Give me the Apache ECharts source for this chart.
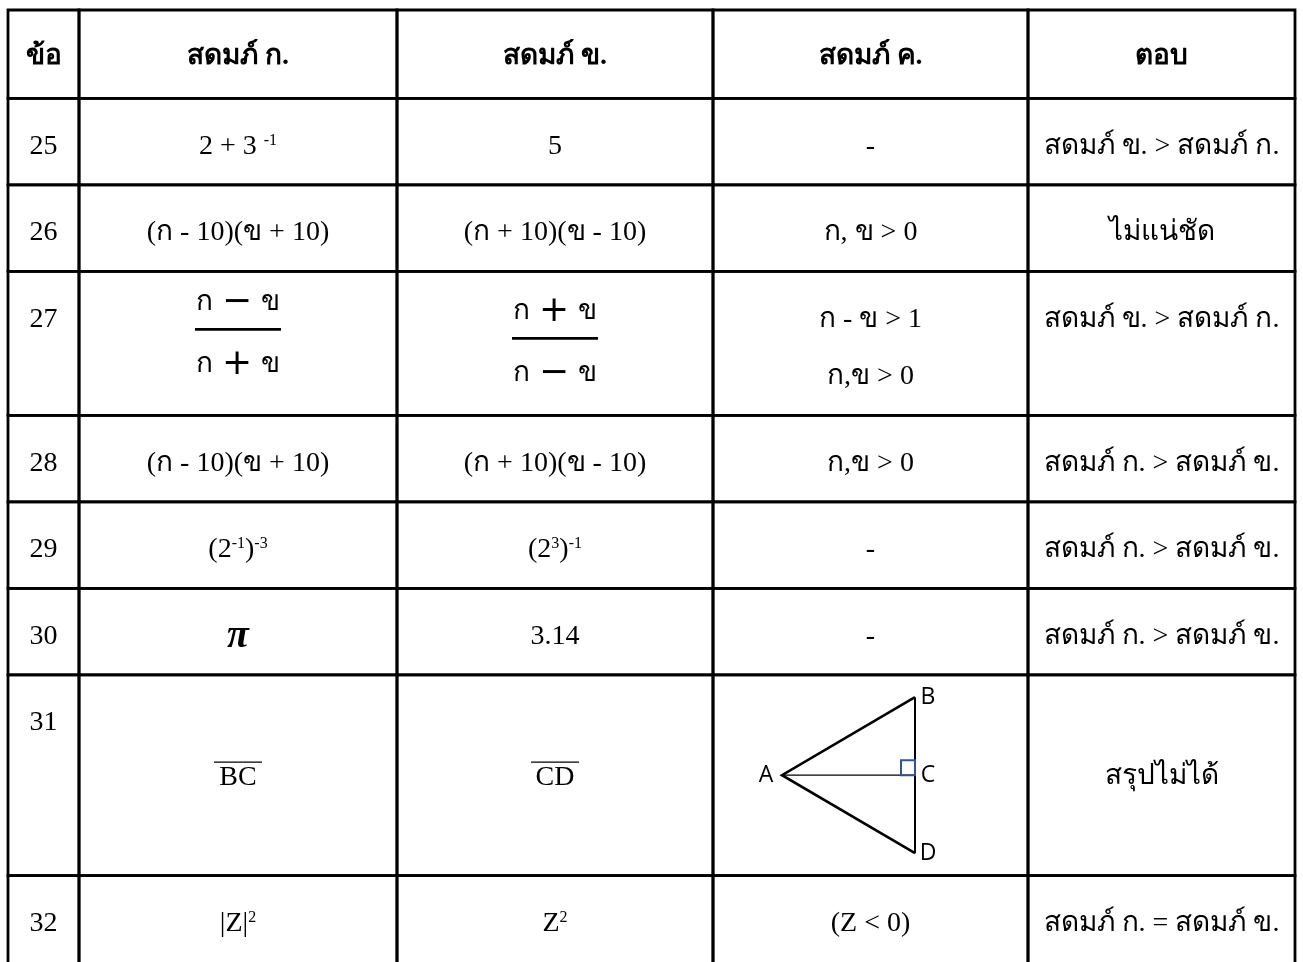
<!DOCTYPE html>
<html>
<head>
<meta charset="utf-8">
<title>ตารางเปรียบเทียบสดมภ์</title>
<script src="https://cdn.jsdelivr.net/npm/echarts@6/dist/echarts.min.js"></script>
<style>
  html, body { margin: 0; background: #fff; }
  #main { width: 1303px; height: 962px; }
</style>
</head>
<body>
<div id="main"></div>
<script>
  // table content
  const headers = ['ข้อ', 'สดมภ์ ก.', 'สดมภ์ ข.', 'สดมภ์ ค.', 'ตอบ'];
  const itemNo = ['25', '26', '27', '28', '29', '30', '31', '32'];
  const colA = ['2 + 3 {sup|-1}', '(ก - 10)(ข + 10)', 'frac:ก − ข|ก + ข', '(ก - 10)(ข + 10)',
    '(2{sup|-1}){sup|-3}', '{pi|π}', 'over:BC', '|Z|{sup|2}'];
  const colB = ['5', '(ก + 10)(ข - 10)', 'frac:ก + ข|ก − ข', '(ก + 10)(ข - 10)',
    '(2{sup|3}){sup|-1}', '3.14', 'over:CD', 'Z{sup|2}'];
  const colC = ['-', 'ก, ข > 0', 'ก - ข > 1\nก,ข > 0', 'ก,ข > 0', '-', '-', 'triangle', '(Z < 0)'];
  const answers = ['สดมภ์ ข. > สดมภ์ ก.', 'ไม่แน่ชัด', 'สดมภ์ ข. > สดมภ์ ก.', 'สดมภ์ ก. > สดมภ์ ข.',
    'สดมภ์ ก. > สดมภ์ ข.', 'สดมภ์ ก. > สดมภ์ ข.', 'สรุปไม่ได้', 'สดมภ์ ก. = สดมภ์ ข.'];
  // triangle ABCD in column ค. of row 31
  const triLabels = ['A', 'B', 'C', 'D'];

  // layout (pixels inside the grid)
  const colEdges = [0, 71, 389, 705, 1020, 1287];
  const rowEdges = [0, 89, 176, 263, 408, 495, 582, 669, 871, 990];
  const serif = '"Liberation Serif", "Times New Roman", serif';
  const sans = '"Open Sans", "Noto Sans", sans-serif';
  const fs = 28;

  const rows = [headers];
  for (let i = 0; i < itemNo.length; i++) {
    rows.push([itemNo[i], colA[i], colB[i], colC[i], answers[i]]);
  }
  const cells = [];
  rows.forEach(function (r, ri) {
    r.forEach(function (t, ci) { cells.push([ci, ri]); });
  });

  const rich = {
    sup: { fontFamily: serif, fontSize: 16, verticalAlign: 'top', fill: '#000' },
    op: { fontFamily: '"DejaVu Sans", sans-serif', fontSize: 36, fill: '#000', padding: [0, 9, 0, 9] },
    t: { fontFamily: serif, fontSize: fs, fill: '#000' },
    pi: { fontFamily: serif, fontSize: 40, fontStyle: 'italic', fontWeight: 'bold', fill: '#000' }
  };

  function txt(s, x, y, opt) {
    opt = opt || {};
    return {
      type: 'text', x: x, y: y,
      style: {
        text: s, fill: '#000', align: 'center', verticalAlign: 'middle',
        fontFamily: opt.family || serif, fontSize: opt.size || fs,
        fontWeight: opt.weight || 'normal', lineHeight: opt.lineHeight || fs,
        rich: rich
      }
    };
  }
  function line(x1, y1, x2, y2, w, color) {
    return { type: 'line', shape: { x1: x1, y1: y1, x2: x2, y2: y2 },
      style: { stroke: color || '#000', lineWidth: w } };
  }
  function fracText(s) {
    return s.replace(/ ?([+−]) ?/g, '{op|$1}').replace(/([กข])/g, '{t|$1}');
  }

  function renderCell(params, api) {
    const col = api.value(0), row = api.value(1);
    const p0 = api.coord([colEdges[col], rowEdges[row]]);
    const p1 = api.coord([colEdges[col + 1], rowEdges[row + 1]]);
    const x0 = p0[0], y0 = p0[1], x1 = p1[0], y1 = p1[1];
    const cx = (x0 + x1) / 2, cy = (y0 + y1) / 2;
    const s = rows[row][col];
    const kids = [{
      type: 'rect', shape: { x: x0, y: y0, width: x1 - x0, height: y1 - y0 },
      style: { fill: 'none', stroke: '#000', lineWidth: 2.8 }
    }];
    const tall = (y1 - y0) > 160 && row < rows.length - 1;
    if (row === 0) {
      kids.push(txt(s, cx, y0 + 47, { weight: 'bold' }));
    } else if (s.indexOf('frac:') === 0) {
      const parts = s.slice(5).split('|');
      const sh = col === 2 ? 9 : 0;
      kids.push(txt(fracText(parts[0]), cx, y0 + 31 + sh));
      kids.push(line(cx - 43, y0 + 58 + sh, cx + 43, y0 + 58 + sh, 2.6));
      kids.push(txt(fracText(parts[1]), cx, y0 + 93 + sh));
    } else if (s.indexOf('over:') === 0) {
      kids.push(txt(s.slice(5), cx, cy + 2));
      kids.push(line(cx - 24, cy - 13, cx + 24, cy - 13, 1.2));
    } else if (s === 'triangle') {
      const A = [x0 + 69, cy], B = [x0 + 202, cy - 78], C = [x0 + 202, cy], D = [x0 + 202, cy + 78];
      kids.push({ type: 'polyline', shape: { points: [B, A, D] }, style: { stroke: '#000', lineWidth: 2.6, fill: 'none' } });
      kids.push(line(B[0], B[1], D[0], D[1], 2));
      kids.push(line(A[0], A[1], C[0], C[1], 1.2));
      kids.push({ type: 'rect', shape: { x: C[0] - 14, y: C[1] - 15, width: 14, height: 15 },
        style: { fill: 'none', stroke: '#2F5597', lineWidth: 2 } });
      const lp = [[A[0] - 16, A[1]], [B[0] + 13, B[1]], [C[0] + 13, C[1]], [D[0] + 13, D[1]]];
      triLabels.forEach(function (l, i) {
        kids.push(txt(l, lp[i][0], lp[i][1], { family: sans, size: 23 }));
      });
    } else if (s.indexOf('\n') >= 0) {
      s.split('\n').forEach(function (ln, i) {
        kids.push(txt(ln, cx, y0 + 48 + i * 57));
      });
    } else {
      const y = (tall && col > 0) ? cy + 1 : y0 + 48;
      kids.push(txt(s, cx, y));
    }
    return { type: 'group', children: kids };
  }

  const chart = echarts.init(document.getElementById('main'));
  chart.setOption({
    backgroundColor: '#fff',
    animation: false,
    grid: { left: 8, top: 10, width: 1287, height: 958 },
    xAxis: { type: 'value', min: 0, max: 1287, show: false },
    yAxis: { type: 'value', min: 0, max: 958, inverse: true, show: false },
    series: [{
      type: 'custom',
      renderItem: renderCell,
      encode: { x: 0, y: 1 },
      data: cells,
      clip: false,
      silent: true
    }]
  });
</script>
</body>
</html>
